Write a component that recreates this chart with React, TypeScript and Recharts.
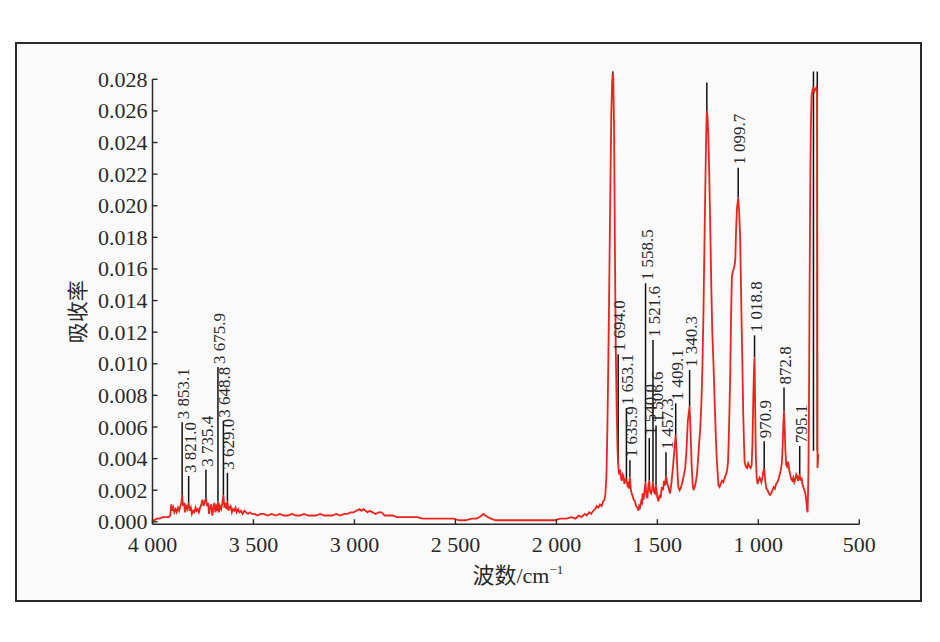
import React from 'react';
import { ComposedChart, Line, Scatter, XAxis, YAxis, ReferenceLine } from 'recharts';

// ---------- data ----------
const xTicks = [4000, 3500, 3000, 2500, 2000, 1500, 1000, 500];
const yTicks = [0, 0.002, 0.004, 0.006, 0.008, 0.01, 0.012, 0.014, 0.016, 0.018, 0.02, 0.022, 0.024, 0.026, 0.028];
const xDomain = [500, 4000];
const yDomain = [-0.00015, 0.0285];
const yAxisTop = 0.028;
const xTitleCjk = '波数';
const xTitleUnit = '/cm';
const xTitleSup = '−1';
const yTitle = '吸收率';

// [wavenumber cm-1, absorbance]
const spectrum: [number, number][] = [
  [4000, 0.0001], [3990, 0.0001], [3980, 0.0002], [3965, 0.0002], [3950, 0.0003], [3935, 0.0003],
  [3920, 0.0003], [3912, 0.0004], [3907, 0.0011], [3902, 0.0007], [3897, 0.0009], [3892, 0.0006],
  [3886, 0.0008], [3880, 0.0006], [3874, 0.0009], [3868, 0.0007], [3862, 0.001], [3857, 0.0012],
  [3853.1, 0.0017], [3849, 0.001], [3844, 0.0012], [3839, 0.0006], [3834, 0.001], [3828, 0.0008],
  [3821, 0.0012], [3816, 0.0007], [3810, 0.0009], [3805, 0.0005], [3799, 0.0007], [3793, 0.0006],
  [3787, 0.0009], [3782, 0.0007], [3776, 0.0008], [3770, 0.0006], [3764, 0.0009], [3758, 0.0011],
  [3753, 0.0014], [3747, 0.001], [3741, 0.0013], [3735.4, 0.0015], [3730, 0.001], [3725, 0.0012],
  [3720, 0.0005], [3715, 0.0009], [3709, 0.0011], [3704, 0.0004], [3699, 0.0008], [3694, 0.0012],
  [3688, 0.0006], [3683, 0.0011], [3679, 0.0007], [3675.9, 0.0013], [3671, 0.0006], [3666, 0.001],
  [3660, 0.0008], [3654, 0.0012], [3648.8, 0.0017], [3644, 0.0009], [3639, 0.0012], [3634, 0.0008],
  [3629, 0.0013], [3624, 0.0007], [3619, 0.0009], [3613, 0.001], [3607, 0.0006], [3601, 0.0008],
  [3595, 0.0007], [3589, 0.0009], [3583, 0.0006], [3576, 0.0008], [3569, 0.0006], [3562, 0.0007],
  [3554, 0.0005], [3545, 0.0007], [3536, 0.0006], [3527, 0.0005], [3518, 0.0006], [3508, 0.0005],
  [3495, 0.0005], [3480, 0.0004], [3465, 0.0005], [3450, 0.0005], [3430, 0.0004], [3410, 0.0005],
  [3390, 0.0004], [3370, 0.0005], [3350, 0.0004], [3330, 0.0004], [3310, 0.0005], [3290, 0.0004],
  [3270, 0.0004], [3250, 0.0005], [3230, 0.0004], [3210, 0.0004], [3190, 0.0004], [3170, 0.0005],
  [3150, 0.0004], [3130, 0.0004], [3110, 0.0004], [3090, 0.0005], [3070, 0.0004], [3050, 0.0005],
  [3035, 0.0005], [3020, 0.0006], [3005, 0.0006], [2990, 0.0007], [2975, 0.0008], [2965, 0.0007],
  [2955, 0.0008], [2945, 0.0007], [2935, 0.0006], [2925, 0.0007], [2910, 0.0006], [2895, 0.0005],
  [2880, 0.0006], [2865, 0.0006], [2850, 0.0004], [2830, 0.0004], [2810, 0.0004], [2790, 0.0003],
  [2770, 0.0003], [2750, 0.0003], [2720, 0.0003], [2690, 0.0003], [2660, 0.0002], [2630, 0.0002],
  [2600, 0.0002], [2570, 0.0002], [2540, 0.0002], [2510, 0.0002], [2480, 0.0001], [2450, 0.0001],
  [2420, 0.0002], [2395, 0.0002], [2380, 0.0003], [2370, 0.0004], [2362, 0.0005], [2352, 0.0004],
  [2340, 0.0003], [2325, 0.0002], [2300, 0.0001], [2270, 0.0001], [2240, 0.0001], [2200, 0.0001],
  [2160, 0.0001], [2120, 0.0001], [2080, 0.0001], [2040, 0.0001], [2010, 0.0001], [1980, 0.0002],
  [1950, 0.0002], [1925, 0.0003], [1905, 0.0002], [1890, 0.0004], [1875, 0.0003], [1860, 0.0005],
  [1850, 0.0004], [1838, 0.0006], [1828, 0.0005], [1818, 0.0007], [1808, 0.0008], [1800, 0.001],
  [1792, 0.0009], [1784, 0.0011], [1776, 0.001], [1768, 0.0013], [1762, 0.0014], [1757, 0.0018],
  [1752, 0.003], [1748, 0.0055], [1744, 0.009], [1740, 0.013], [1736, 0.0175], [1732, 0.022],
  [1728, 0.0258], [1724, 0.0278], [1721, 0.0284], [1718, 0.028], [1714, 0.0245], [1710, 0.017],
  [1706, 0.011], [1701, 0.0068], [1697, 0.0045], [1694, 0.0037], [1690, 0.003], [1685, 0.0033],
  [1680, 0.0028], [1676, 0.0026], [1672, 0.003], [1668, 0.0029], [1663, 0.0024], [1658, 0.0027],
  [1653.1, 0.0027], [1648, 0.0023], [1644, 0.0024], [1640, 0.0021], [1635.9, 0.0028], [1631, 0.002],
  [1627, 0.0018], [1622, 0.0016], [1617, 0.0014], [1611, 0.0013], [1605, 0.001], [1599, 0.0009],
  [1594, 0.0007], [1590, 0.001], [1586, 0.0009], [1580, 0.0013], [1576, 0.0012], [1573, 0.0018],
  [1568, 0.0014], [1563, 0.002], [1558.5, 0.0025], [1554, 0.0017], [1549, 0.0015], [1545, 0.0022],
  [1540, 0.0026], [1536, 0.0019], [1531, 0.0018], [1526, 0.0021], [1521.6, 0.0025], [1517, 0.0019],
  [1512, 0.0018], [1506.6, 0.0023], [1501, 0.0016], [1495, 0.0013], [1489, 0.0017], [1484, 0.0015],
  [1478, 0.0022], [1472, 0.002], [1467, 0.0026], [1462, 0.0023], [1457.3, 0.0029], [1451, 0.0024],
  [1445, 0.0022], [1440, 0.0019], [1437, 0.0018], [1430, 0.0025], [1423, 0.0034], [1416, 0.0045],
  [1409.1, 0.0055], [1404, 0.0043], [1400, 0.003], [1396, 0.0022], [1390, 0.002], [1385, 0.0021],
  [1379, 0.0024], [1374, 0.0026], [1368, 0.003], [1362, 0.0034], [1356, 0.0045], [1349, 0.0064],
  [1340.3, 0.0073], [1335, 0.0055], [1330, 0.0035], [1325, 0.0024], [1321, 0.002], [1315, 0.0022],
  [1310, 0.0025], [1304, 0.003], [1298, 0.004], [1293, 0.005], [1288, 0.0058], [1282, 0.0075],
  [1277, 0.0097], [1272, 0.013], [1268, 0.0165], [1264, 0.02], [1260, 0.0232], [1257, 0.0252],
  [1255, 0.026], [1252, 0.0257], [1248, 0.0246], [1243, 0.022], [1238, 0.0186], [1233, 0.015],
  [1228, 0.012], [1222, 0.01], [1216, 0.0075], [1210, 0.0052], [1205, 0.0038], [1200, 0.0028],
  [1197, 0.0023], [1192, 0.0022], [1186, 0.0024], [1180, 0.0026], [1173, 0.0025], [1166, 0.0028],
  [1160, 0.003], [1154, 0.0033], [1150, 0.0038], [1147, 0.005], [1143, 0.007], [1139, 0.0095],
  [1135, 0.013], [1131, 0.0155], [1127, 0.0158], [1122, 0.016], [1118, 0.0162], [1114, 0.0166],
  [1110, 0.0185], [1106, 0.0198], [1099.7, 0.0205], [1095, 0.0196], [1090, 0.018], [1086, 0.015],
  [1082, 0.012], [1079, 0.01], [1075, 0.007], [1071, 0.005], [1068, 0.0038], [1062, 0.0035],
  [1056, 0.0034], [1050, 0.0037], [1044, 0.0035], [1038, 0.0034], [1033, 0.0036], [1029, 0.005],
  [1025, 0.0078], [1021, 0.0098], [1018.8, 0.0104], [1015, 0.0065], [1012, 0.004], [1008, 0.0028],
  [1004, 0.0024], [999, 0.0026], [994, 0.0028], [990, 0.0027], [985, 0.0025], [980, 0.0028],
  [975, 0.0032], [970.9, 0.0034], [966, 0.0026], [960, 0.0021], [954, 0.002], [948, 0.0018],
  [942, 0.0017], [936, 0.0018], [930, 0.002], [924, 0.0022], [918, 0.0021], [912, 0.0024],
  [906, 0.0025], [900, 0.0027], [894, 0.003], [888, 0.0033], [883, 0.0038], [879, 0.005],
  [876, 0.0062], [872.8, 0.007], [869, 0.0058], [866, 0.0045], [862, 0.0036], [858, 0.0035],
  [854, 0.0038], [850, 0.0036], [846, 0.0032], [842, 0.003], [837, 0.0027], [832, 0.0026],
  [827, 0.0028], [822, 0.0025], [817, 0.0027], [812, 0.003], [808, 0.0029], [803, 0.0026],
  [799, 0.0028], [795.1, 0.003], [791, 0.0026], [786, 0.0028], [782, 0.0024], [777, 0.0022],
  [772, 0.002], [767, 0.0018], [762, 0.0013], [759, 0.0008], [756, 0.0006], [752, 0.003],
  [749, 0.008], [746, 0.015], [743, 0.021], [740, 0.025], [736, 0.027], [732, 0.0273],
  [728, 0.0275], [724, 0.0272], [720, 0.0273], [716, 0.0274], [712, 0.0275], [709, 0.0272],
  [707, 0.0034], [705, 0.0038], [703, 0.0043],
];

// peak markers
const peakWn = [3853.1, 3821.0, 3735.4, 3675.9, 3648.8, 3629.0, 1721, 1694.0, 1653.1, 1635.9, 1558.5, 1540.0, 1521.6, 1506.6, 1457.3, 1409.1, 1340.3, 1255, 1099.7, 1018.8, 970.9, 872.8, 795.1, 727, 708];
const peakBase = [0.0017, 0.0012, 0.0015, 0.0013, 0.0017, 0.0013, 0.0278, 0.0037, 0.0027, 0.0028, 0.0025, 0.0026, 0.0025, 0.0023, 0.0029, 0.0055, 0.0073, 0.026, 0.0205, 0.0104, 0.0034, 0.007, 0.003, 0.0045, 0.0045];
const peakTip = [0.0063, 0.0029, 0.0033, 0.0098, 0.0064, 0.0031, 0.0285, 0.0106, 0.0072, 0.0039, 0.0151, 0.0053, 0.0115, 0.0061, 0.0044, 0.0075, 0.0096, 0.0278, 0.0224, 0.0118, 0.0051, 0.0085, 0.0048, 0.0285, 0.0285];
const peakLabels = ['3 853.1', '3 821.0', '3 735.4', '3 675.9', '3 648.8', '3 629.0', '', '1 694.0', '1 653.1', '1 635.9', '1 558.5', '1 540.0', '1 521.6', '1 506.6', '1 457.3', '1 409.1', '1 340.3', '', '1 099.7', '1 018.8', '970.9', '872.8', '795.1', '', ''];

// ---------- derived tables ----------
const lineData = spectrum.map(([wn, a]) => ({ wn, a }));
const peakData = peakWn.map((wn, i) => ({ wn, base: peakBase[i], tip: peakTip[i], label: peakLabels[i] }));
const labeledPeaks = peakData.filter((p) => p.label !== '');

// ---------- styling ----------
const SERIF = '"Liberation Serif", "Times New Roman", serif';
const CJK = '"Noto Sans CJK SC", sans-serif';
const INK = '#2a2a2a';
const RED = '#e8241d';
const Y_AXIS_W = 60;
const X_AXIS_H = 40;

const fmtX = (v: number) =>
  v >= 1000 ? `${Math.floor(v / 1000)} ${String(v % 1000).padStart(3, '0')}` : String(v);

function XTick(props: any) {
  const { x, y, payload } = props;
  return (
    <g>
      <line x1={x} y1={y} x2={x} y2={y - 5} stroke={INK} strokeWidth={1.4} />
      <text x={x} y={y + 28} textAnchor="middle" style={{ fontFamily: SERIF, fontSize: 22 }} fill={INK}>
        {fmtX(payload.value)}
      </text>
    </g>
  );
}

function YTick(props: any) {
  const { x, y, payload } = props;
  return (
    <g>
      <line x1={x} y1={y} x2={x + 5} y2={y} stroke={INK} strokeWidth={1.4} />
      <text x={x - 5} y={y + 7.5} textAnchor="end" style={{ fontFamily: SERIF, fontSize: 22 }} fill={INK}>
        {Number(payload.value).toFixed(3)}
      </text>
    </g>
  );
}

function YTitle(props: any) {
  const vb = props.viewBox || {};
  const cx = vb.x + (vb.width || 0) - 76;
  const cy = vb.y + vb.height / 2 + 14;
  return (
    <text x={cx} y={cy} transform={`rotate(-90, ${cx}, ${cy})`} textAnchor="middle" dominantBaseline="central" style={{ fontFamily: CJK, fontSize: 21 }} fill={INK}>
      {yTitle}
    </text>
  );
}

function XTitle(props: any) {
  const vb = props.viewBox || {};
  const cx = vb.x + vb.width / 2 + 12;
  const cy = vb.y + 59;
  return (
    <text x={cx} y={cy} textAnchor="middle" style={{ fontSize: 22 }} fill={INK}>
      <tspan style={{ fontFamily: CJK }}>{xTitleCjk}</tspan>
      <tspan style={{ fontFamily: SERIF }}>{xTitleUnit}</tspan>
      <tspan style={{ fontFamily: SERIF, fontSize: 13 }} dy={-9}>{xTitleSup}</tspan>
    </text>
  );
}

function PeakLabel(props: any) {
  const { cx, cy, payload } = props;
  if (cx == null || cy == null) return <g />;
  const tx = cx + 7;
  const ty = cy - 3;
  return (
    <text x={tx} y={ty} transform={`rotate(-90, ${tx}, ${ty})`} textAnchor="start" style={{ fontFamily: SERIF, fontSize: 17 }} fill={INK}>
      {payload.label}
    </text>
  );
}

export default function App() {
  return (
    <div style={{ position: 'absolute', left: 0, top: 0, width: 940, height: 642, background: '#ffffff' }}>
      <div
        style={{
          position: 'absolute',
          left: 15,
          top: 42,
          width: 907,
          height: 560,
          boxSizing: 'border-box',
          border: '2px solid #2a2a2a',
          background: '#fafafa',
        }}
      />
      <div style={{ position: 'absolute', left: 0, top: 0 }}>
        <ComposedChart
          width={940}
          height={642}
          margin={{ top: 71.4, left: 152.5 - Y_AXIS_W, right: 80.7, bottom: 117.8 - X_AXIS_H }}
        >
          <XAxis
            type="number"
            dataKey="wn"
            domain={xDomain}
            reversed
            ticks={xTicks}
            interval={0}
            allowDataOverflow
            height={X_AXIS_H}
            tickSize={0}
            tickMargin={0}
            tickLine={false}
            tick={<XTick />}
            axisLine={{ stroke: INK, strokeWidth: 1.5 }}
            label={{ content: (p: any) => <XTitle {...p} /> }}
          />
          <YAxis
            type="number"
            domain={yDomain}
            ticks={yTicks}
            interval={0}
            allowDataOverflow
            width={Y_AXIS_W}
            tickSize={0}
            tickMargin={0}
            tickLine={false}
            axisLine={false}
            tick={<YTick />}
            label={{ content: (p: any) => <YTitle {...p} /> }}
          />
          <ReferenceLine
            segment={[{ x: xDomain[1], y: yDomain[0] }, { x: xDomain[1], y: yAxisTop }]}
            stroke={INK}
            strokeWidth={1.5}
            ifOverflow="visible"
          />
          {peakData.map((p, i) => (
            <ReferenceLine
              key={`pk-${i}`}
              segment={[{ x: p.wn, y: p.base }, { x: p.wn, y: p.tip }]}
              stroke="#111"
              strokeWidth={1.5}
              ifOverflow="visible"
            />
          ))}
          <Line
            data={lineData}
            dataKey="a"
            type="linear"
            stroke={RED}
            strokeWidth={1.8}
            dot={false}
            activeDot={false}
            isAnimationActive={false}
          />
          <Scatter
            data={labeledPeaks}
            dataKey="tip"
            isAnimationActive={false}
            shape={(p: any) => <PeakLabel {...p} />}
          />
        </ComposedChart>
      </div>
    </div>
  );
}
